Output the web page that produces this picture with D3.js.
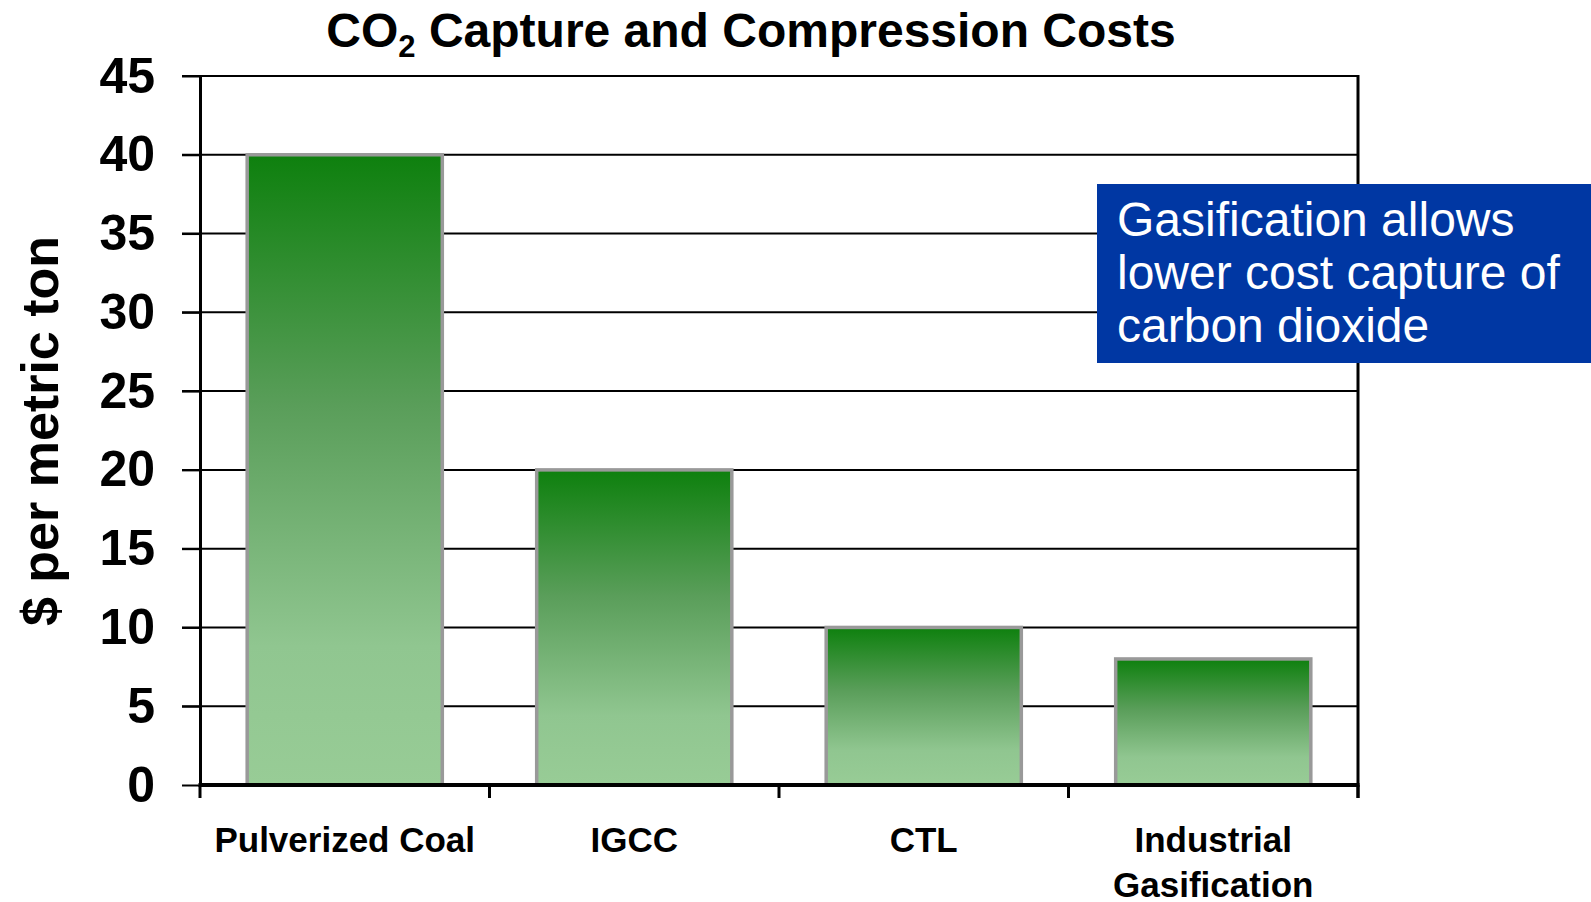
<!DOCTYPE html>
<html>
<head>
<meta charset="utf-8">
<script src="https://cdn.jsdelivr.net/npm/d3@7"></script>
<style>
  body { margin: 0; background: #fff; }
  svg { display: block; font-family: "Liberation Sans", Arial, sans-serif; }
</style>
</head>
<body>
<div id="chart"></div>
<script>
// chart data
var categories = ["Pulverized Coal", "IGCC", "CTL", "Industrial Gasification"];
var labelLines = [["Pulverized Coal"], ["IGCC"], ["CTL"], ["Industrial", "Gasification"]];
var costs = [40, 20, 10, 8];
var yTicks = [0, 5, 10, 15, 20, 25, 30, 35, 40, 45];
var noteLines = ["Gasification allows", "lower cost capture of", "carbon dioxide"];

var width = 1591, height = 902;
// note: "top" is taken by window.top, so plot edges get their own names
var plotLeft = 200, plotRight = 1358, plotTop = 76, plotBottom = 785;

var svg = d3.select("#chart").append("svg")
  .attr("width", width)
  .attr("height", height);

var defs = svg.append("defs");
var grad = defs.append("linearGradient")
  .attr("id", "barFill")
  .attr("x1", 0).attr("y1", 0).attr("x2", 0).attr("y2", 1);
grad.append("stop").attr("offset", "0%").attr("stop-color", "#0e800e");
grad.append("stop").attr("offset", "40%").attr("stop-color", "#5a9e5a");
grad.append("stop").attr("offset", "78%").attr("stop-color", "#90c690");
grad.append("stop").attr("offset", "100%").attr("stop-color", "#98cc96");

var x = d3.scaleBand()
  .domain(categories)
  .range([plotLeft, plotRight])
  .paddingInner(0.326)
  .paddingOuter(0.163);

var y = d3.scaleLinear()
  .domain([0, 45])
  .range([plotBottom, plotTop]);

// gridlines
svg.append("g")
  .selectAll("line")
  .data(yTicks.slice(1))
  .enter()
  .append("line")
  .attr("x1", plotLeft - 18)
  .attr("x2", plotRight)
  .attr("y1", function(d) { return y(d); })
  .attr("y2", function(d) { return y(d); })
  .attr("stroke", "#000")
  .attr("stroke-width", 2);

// bars
svg.append("g")
  .selectAll("rect")
  .data(costs)
  .enter()
  .append("rect")
  .attr("x", function(d, i) { return x(categories[i]); })
  .attr("width", x.bandwidth())
  .attr("y", function(d) { return y(d); })
  .attr("height", function(d) { return plotBottom - y(d); })
  .attr("fill", "url(#barFill)")
  .attr("stroke", "#999")
  .attr("stroke-width", 3.5);

// y axis
var yAxis = svg.append("g")
  .attr("transform", "translate(" + plotLeft + ",0)")
  .call(d3.axisLeft(y).tickValues(yTicks).tickSize(18).tickPadding(27).tickSizeOuter(0));
yAxis.select(".domain").attr("stroke-width", 3);
yAxis.selectAll(".tick line").attr("stroke-width", 2);
yAxis.selectAll(".tick text")
  .attr("fill", "#000")
  .style("font-family", "'Liberation Sans', Arial, sans-serif")
  .style("font-size", "50px")
  .style("font-weight", "bold");

// right border
svg.append("line")
  .attr("x1", plotRight).attr("x2", plotRight)
  .attr("y1", plotTop - 1).attr("y2", plotBottom + 13)
  .attr("stroke", "#000").attr("stroke-width", 3);

// x axis line and boundary ticks
svg.append("line")
  .attr("x1", plotLeft - 1.5).attr("x2", plotRight + 1.5)
  .attr("y1", plotBottom).attr("y2", plotBottom)
  .attr("stroke", "#000").attr("stroke-width", 4);

var step = x.step();
var edges = categories.map(function(c) { return x(c) - (step - x.bandwidth()) / 2; });
edges.push(plotRight);
svg.append("g")
  .selectAll("line")
  .data(edges)
  .enter()
  .append("line")
  .attr("x1", function(d) { return d; })
  .attr("x2", function(d) { return d; })
  .attr("y1", plotBottom)
  .attr("y2", plotBottom + 13)
  .attr("stroke", "#000")
  .attr("stroke-width", 3);

// x labels
var xl = svg.append("g")
  .selectAll("text")
  .data(labelLines)
  .enter()
  .append("text")
  .attr("text-anchor", "middle")
  .attr("font-size", 35)
  .attr("font-weight", "bold")
  .attr("fill", "#000");
xl.each(function(lines, i) {
  var t = d3.select(this);
  lines.forEach(function(s, k) {
    t.append("tspan")
      .attr("x", x(categories[i]) + x.bandwidth() / 2)
      .attr("y", 852 + k * 45)
      .text(s);
  });
});

// y title
svg.append("text")
  .attr("transform", "translate(58,431) rotate(-90)")
  .attr("text-anchor", "middle")
  .attr("font-size", 52)
  .attr("font-weight", "bold")
  .attr("fill", "#000")
  .text("$ per metric ton");

// title
var title = svg.append("text")
  .attr("x", 751)
  .attr("y", 47)
  .attr("text-anchor", "middle")
  .attr("font-size", 48)
  .attr("font-weight", "bold")
  .attr("fill", "#000");
title.append("tspan").text("CO");
title.append("tspan").attr("font-size", 31).attr("dy", 10).text("2");
title.append("tspan").attr("dy", -10).text(" Capture and Compression Costs");

// note box
svg.append("rect")
  .attr("x", 1097).attr("y", 184)
  .attr("width", width - 1097).attr("height", 179)
  .attr("fill", "#0037a3");
svg.append("g")
  .selectAll("text")
  .data(noteLines)
  .enter()
  .append("text")
  .attr("x", 1117)
  .attr("y", function(d, i) { return 236 + i * 53; })
  .attr("font-size", 48)
  .attr("fill", "#fff")
  .text(function(d) { return d; });
</script>
</body>
</html>
